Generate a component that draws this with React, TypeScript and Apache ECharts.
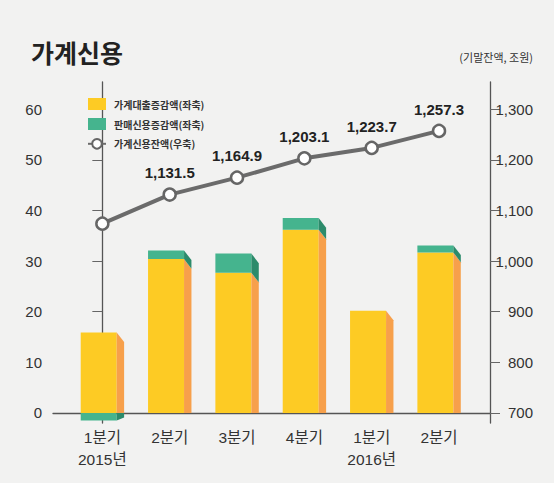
import React, { useEffect, useRef } from "react";
import * as echarts from "echarts";

const categories = ["1분기\n2015년", "2분기", "3분기", "4분기", "1분기\n2016년", "2분기"];
const loanChange = [15.9, 30.4, 27.7, 36.2, 20.2, 31.7];
const salesCreditChange = [-1.5, 1.7, 3.8, 2.3, 0, 1.4];
const creditBalance = [1074, 1131.5, 1164.9, 1203.1, 1223.7, 1257.3];
const leftTicks = [0, 10, 20, 30, 40, 50, 60];
const rightTicks = [700, 800, 900, 1000, 1100, 1200, 1300];

const NAME_LOAN = "가계대출증감액(좌축)";
const NAME_SALES = "판매신용증감액(좌축)";
const NAME_CREDIT = "가계신용잔액(우축)";

const CJK = "'Noto Sans CJK KR', sans-serif";
const NARROW = "'Liberation Sans Narrow', 'Liberation Sans', 'Noto Sans CJK KR', sans-serif";

const YELLOW = "#FDCB24";
const ORANGE = "#F7A04B";
const GREEN = "#45B48E";
const DKGREEN = "#2C8B6B";

function geom(api: any, i: number) {
  const band = api.size([1, 0])[0];
  const c = api.coord([i, 0]);
  const left = c[0] - band * 0.3215;
  const right = c[0] + band * 0.2131;
  const s = band * 0.11;
  const dy = s * 1.3;
  return { left, right, s, dy, y0: c[1] };
}

export default function App() {
  const ref = useRef<HTMLDivElement>(null);
  useEffect(() => {
    document.body.style.margin = "0";
    const chart = echarts.init(ref.current!, null, { renderer: "svg" });
    const loanData = loanChange.map((v, i) => [i, v]);
    const salesData = salesCreditChange.map((v, i) => [i, v, loanChange[i]]);
    const lineData = creditBalance.map((v, i) => [i, v]);

    chart.setOption({
      animation: false,
      backgroundColor: "#f2f2f1",
      title: [
        {
          text: "가계신용",
          left: 26,
          top: 34,
          textStyle: { fontSize: 25, fontWeight: "bold", color: "#222", fontFamily: CJK },
        },
        {
          text: "(기말잔액, 조원)",
          right: 16,
          top: 46,
          textStyle: { fontSize: 11, fontWeight: "normal", color: "#333", fontFamily: CJK },
        },
      ],
      legend: {
        orient: "vertical",
        left: 87,
        top: 98,
        padding: 0,
        itemWidth: 18,
        itemHeight: 12,
        itemGap: 8,
        textStyle: { fontSize: 10, fontWeight: "bold", color: "#333", fontFamily: CJK, padding: [0, 0, 0, 3] },
        data: [
          { name: NAME_LOAN, icon: "rect", itemStyle: { color: YELLOW } },
          { name: NAME_SALES, icon: "rect", itemStyle: { color: GREEN } },
          { name: NAME_CREDIT },
        ],
      },
      grid: { left: 53, right: 64, top: 82, bottom: 60 },
      xAxis: {
        type: "value",
        min: -0.733,
        max: 5.757,
        splitLine: { show: false },
        axisLine: { show: true, onZero: true, lineStyle: { color: "#555", width: 1.3 } },
        axisTick: { show: false },
        axisLabel: {
          customValues: categories.map((_, i) => i),
          formatter: (v: number) => categories[Math.round(v)] ?? "",
          fontSize: 15.5,
          lineHeight: 22,
          margin: 3,
          color: "#333",
          fontFamily: NARROW,
        },
      },
      yAxis: [
        {
          type: "value",
          min: -2,
          max: 65.4,
          position: "left",
          splitLine: { show: false },
          axisLine: { show: true, lineStyle: { color: "#555", width: 1.3 } },
          axisTick: { show: true, customValues: leftTicks, length: 10, lineStyle: { color: "#666" } },
          axisLabel: {
            customValues: leftTicks,
            fontSize: 15,
            margin: 11,
            color: "#333",
            fontFamily: NARROW,
          },
        },
        {
          type: "value",
          min: 680,
          max: 1354,
          position: "right",
          splitLine: { show: false },
          axisLine: { show: true, lineStyle: { color: "#555", width: 1.3 } },
          axisTick: { show: true, customValues: rightTicks, length: 10, lineStyle: { color: "#666" } },
          axisLabel: {
            customValues: rightTicks,
            formatter: (v: number) => v.toLocaleString("en-US"),
            align: "right",
            fontSize: 15,
            margin: 43,
            color: "#333",
            fontFamily: NARROW,
          },
        },
      ],
      series: [
        {
          name: NAME_LOAN,
          type: "custom",
          xAxisIndex: 0,
          yAxisIndex: 0,
          itemStyle: { color: YELLOW },
          encode: { x: 0, y: 1 },
          data: loanData,
          renderItem: (params: any, api: any) => {
            const i = api.value(0);
            const v = api.value(1);
            const g = geom(api, i);
            const yt = api.coord([i, v])[1];
            return {
              type: "group",
              children: [
                {
                  type: "rect",
                  shape: { x: g.left, y: yt, width: g.right - g.left, height: g.y0 - yt },
                  style: { fill: YELLOW },
                },
                {
                  type: "polygon",
                  shape: {
                    points: [
                      [g.right, yt],
                      [g.right + g.s, yt + g.dy],
                      [g.right + g.s, g.y0],
                      [g.right, g.y0],
                    ],
                  },
                  style: { fill: ORANGE },
                },
              ],
            };
          },
        },
        {
          name: NAME_SALES,
          type: "custom",
          xAxisIndex: 0,
          yAxisIndex: 0,
          itemStyle: { color: GREEN },
          encode: { x: 0, y: 1 },
          data: salesData,
          renderItem: (params: any, api: any) => {
            const i = api.value(0);
            const v = api.value(1);
            const base = api.value(2);
            if (!v) return { type: "group", children: [] };
            const g = geom(api, i);
            if (v > 0) {
              const yb = api.coord([i, base])[1];
              const yt = api.coord([i, base + v])[1];
              return {
                type: "group",
                children: [
                  {
                    type: "rect",
                    shape: { x: g.left, y: yt, width: g.right - g.left, height: yb - yt },
                    style: { fill: GREEN },
                  },
                  {
                    type: "polygon",
                    shape: {
                      points: [
                        [g.right, yt],
                        [g.right + g.s, yt + g.dy],
                        [g.right + g.s, yb + g.dy],
                        [g.right, yb],
                      ],
                    },
                    style: { fill: DKGREEN },
                  },
                ],
              };
            }
            const yn = api.coord([i, v])[1];
            return {
              type: "group",
              children: [
                {
                  type: "rect",
                  shape: { x: g.left, y: g.y0, width: g.right - g.left, height: yn - g.y0 },
                  style: { fill: GREEN },
                },
                {
                  type: "polygon",
                  shape: {
                    points: [
                      [g.right, g.y0],
                      [g.right + g.s, g.y0],
                      [g.right + g.s, yn - 3],
                      [g.right, yn],
                    ],
                  },
                  style: { fill: DKGREEN },
                },
              ],
            };
          },
        },
        {
          name: NAME_CREDIT,
          type: "line",
          xAxisIndex: 0,
          yAxisIndex: 1,
          z: 5,
          data: lineData,
          symbol: "circle",
          symbolSize: 12,
          lineStyle: { color: "#6b6b6b", width: 4 },
          itemStyle: { color: "#ffffff", borderColor: "#666", borderWidth: 2.5 },
          label: {
            show: true,
            position: "top",
            distance: 7,
            fontSize: 15,
            fontWeight: "bold",
            color: "#222",
            fontFamily: NARROW,
            formatter: (p: any) =>
              p.dataIndex === 0
                ? ""
                : Number(p.value[1]).toLocaleString("en-US", { minimumFractionDigits: 1, maximumFractionDigits: 1 }),
          },
        },
      ],
    });
    return () => chart.dispose();
  }, []);
  return <div ref={ref} style={{ width: 554, height: 483 }} />;
}
